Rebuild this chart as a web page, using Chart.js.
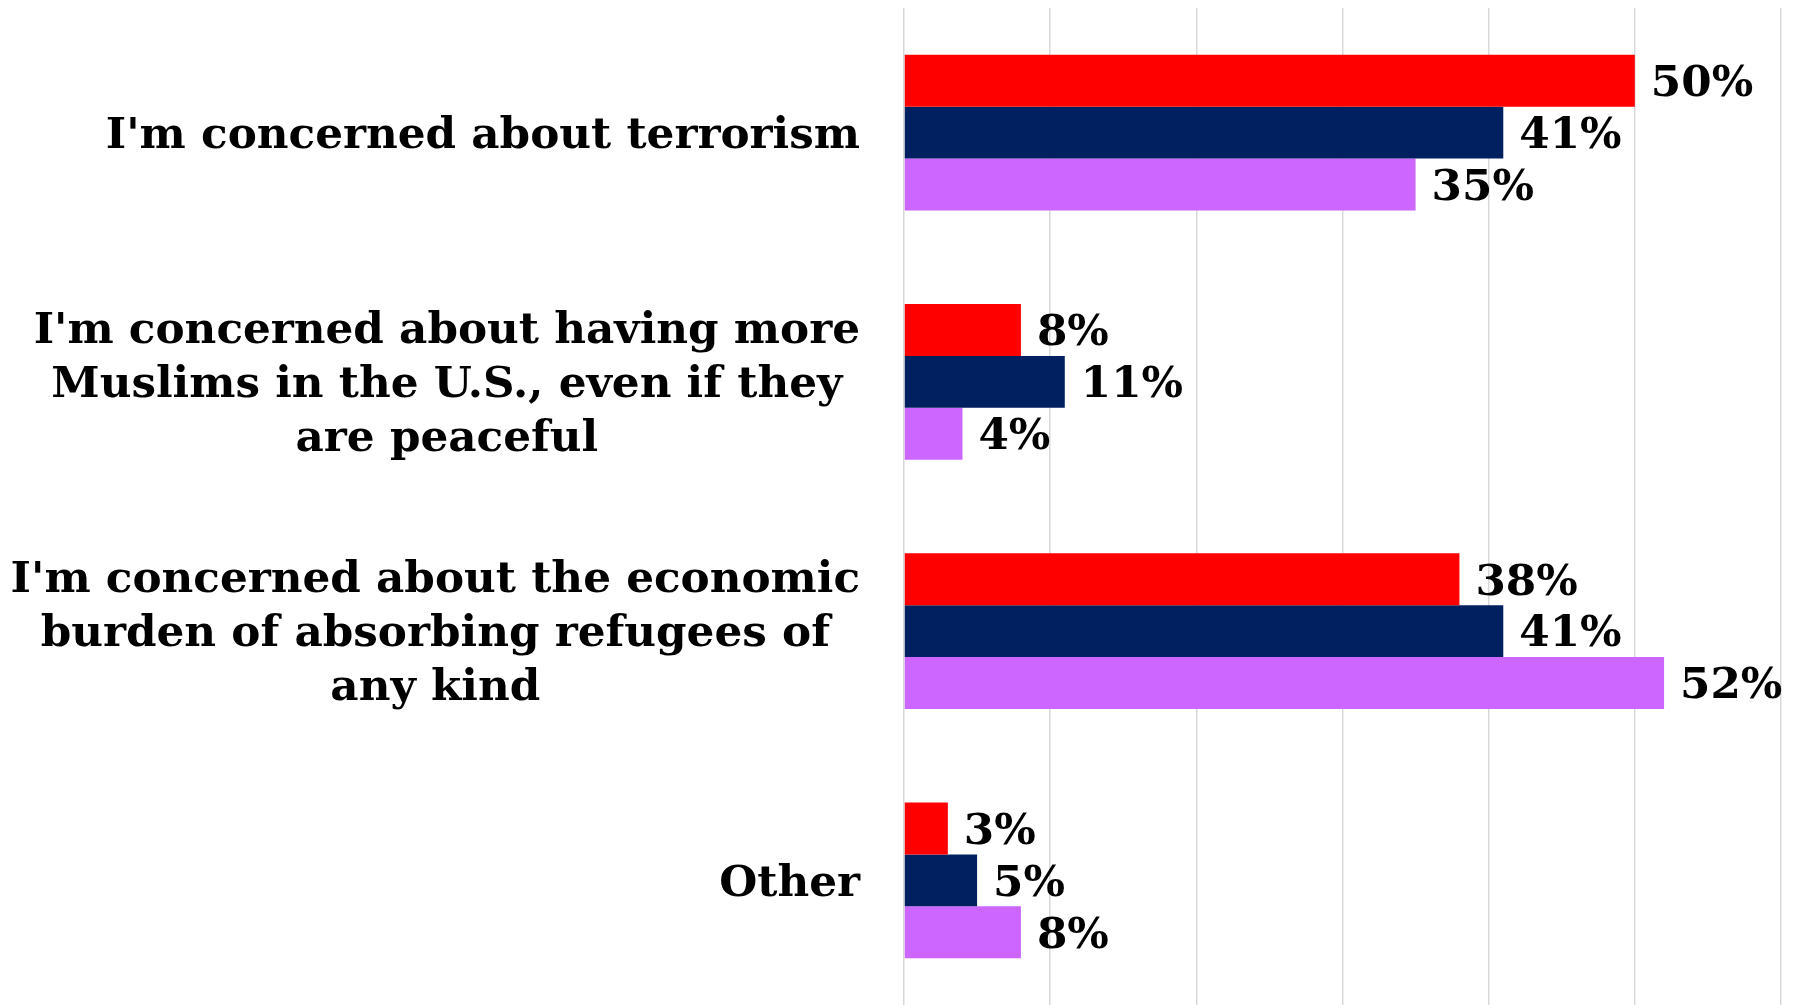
<!DOCTYPE html>
<html>
<head>
<meta charset="utf-8">
<script src="https://cdn.jsdelivr.net/npm/chart.js@4"></script>
<style>
  html, body { margin: 0; padding: 0; background: #fff; }
  #wrap { width: 1794px; height: 1005px; position: relative; }
</style>
</head>
<body>
<div id="wrap"><canvas id="chart"></canvas></div>
<script>
// categories (one array of lines per label)
const categories = [
  ["I'm concerned about terrorism"],
  ["I'm concerned about having more", "Muslims in the U.S., even if they", "are peaceful"],
  ["I'm concerned about the economic", "burden of absorbing refugees of", "any kind"],
  ["Other"]
];
const seriesA = [50, 8, 38, 3];
const seriesB = [41, 11, 41, 5];
const seriesC = [35, 4, 52, 8];
const xTicks = [0, 10, 20, 30, 40, 50, 60];

const FONT = 'bold 43.7px "DejaVu Serif"';

// draws the category labels: each block right-aligned, lines centered in the block
const categoryLabels = {
  id: 'categoryLabels',
  afterDraw(chart) {
    const ctx = chart.ctx;
    const y = chart.scales.y;
    const rightEdge = chart.chartArea.left - 44;
    const lineH = 54;
    ctx.save();
    ctx.font = FONT;
    ctx.fillStyle = '#000';
    ctx.textBaseline = 'middle';
    ctx.textAlign = 'center';
    categories.forEach((lines, i) => {
      const cy = y.getPixelForValue(i) + 4;
      const w = Math.max(...lines.map(l => ctx.measureText(l).width));
      const cx = rightEdge - w / 2;
      lines.forEach((l, j) => {
        ctx.fillText(l, cx, cy + (j - (lines.length - 1) / 2) * lineH);
      });
    });
    ctx.restore();
  }
};

// value labels at the end of each bar
const valueLabels = {
  id: 'valueLabels',
  afterDatasetsDraw(chart) {
    const ctx = chart.ctx;
    ctx.save();
    ctx.font = FONT;
    ctx.fillStyle = '#000';
    ctx.textBaseline = 'middle';
    ctx.textAlign = 'left';
    chart.data.datasets.forEach((ds, di) => {
      chart.getDatasetMeta(di).data.forEach((bar, i) => {
        ctx.fillText(ds.data[i] + '%', bar.x + 16, bar.y + 4);
      });
    });
    ctx.restore();
  }
};

new Chart(document.getElementById('chart'), {
  type: 'bar',
  data: {
    labels: categories.map(c => c.join(' ')),
    datasets: [
      { data: seriesA, backgroundColor: '#FF0000' },
      { data: seriesB, backgroundColor: '#002060' },
      { data: seriesC, backgroundColor: '#CC66FF' }
    ]
  },
  options: {
    indexAxis: 'y',
    responsive: true,
    maintainAspectRatio: false,
    animation: false,
    layout: { padding: { top: 8, right: 13, bottom: 0, left: 0 } },
    datasets: { bar: { barPercentage: 1, categoryPercentage: 0.625 } },
    plugins: { legend: { display: false }, tooltip: { enabled: false } },
    scales: {
      x: {
        min: xTicks[0],
        max: xTicks[xTicks.length - 1],
        afterBuildTicks: s => { s.ticks = xTicks.map(v => ({ value: v })); },
        ticks: { display: false },
        grid: { color: '#D9D9D9', lineWidth: 1.5, drawTicks: false },
        border: { display: false }
      },
      y: {
        ticks: { display: false },
        grid: { display: false },
        border: { display: false },
        afterFit: s => { s.width = 904; }
      }
    }
  },
  plugins: [categoryLabels, valueLabels]
});
</script>
</body>
</html>
